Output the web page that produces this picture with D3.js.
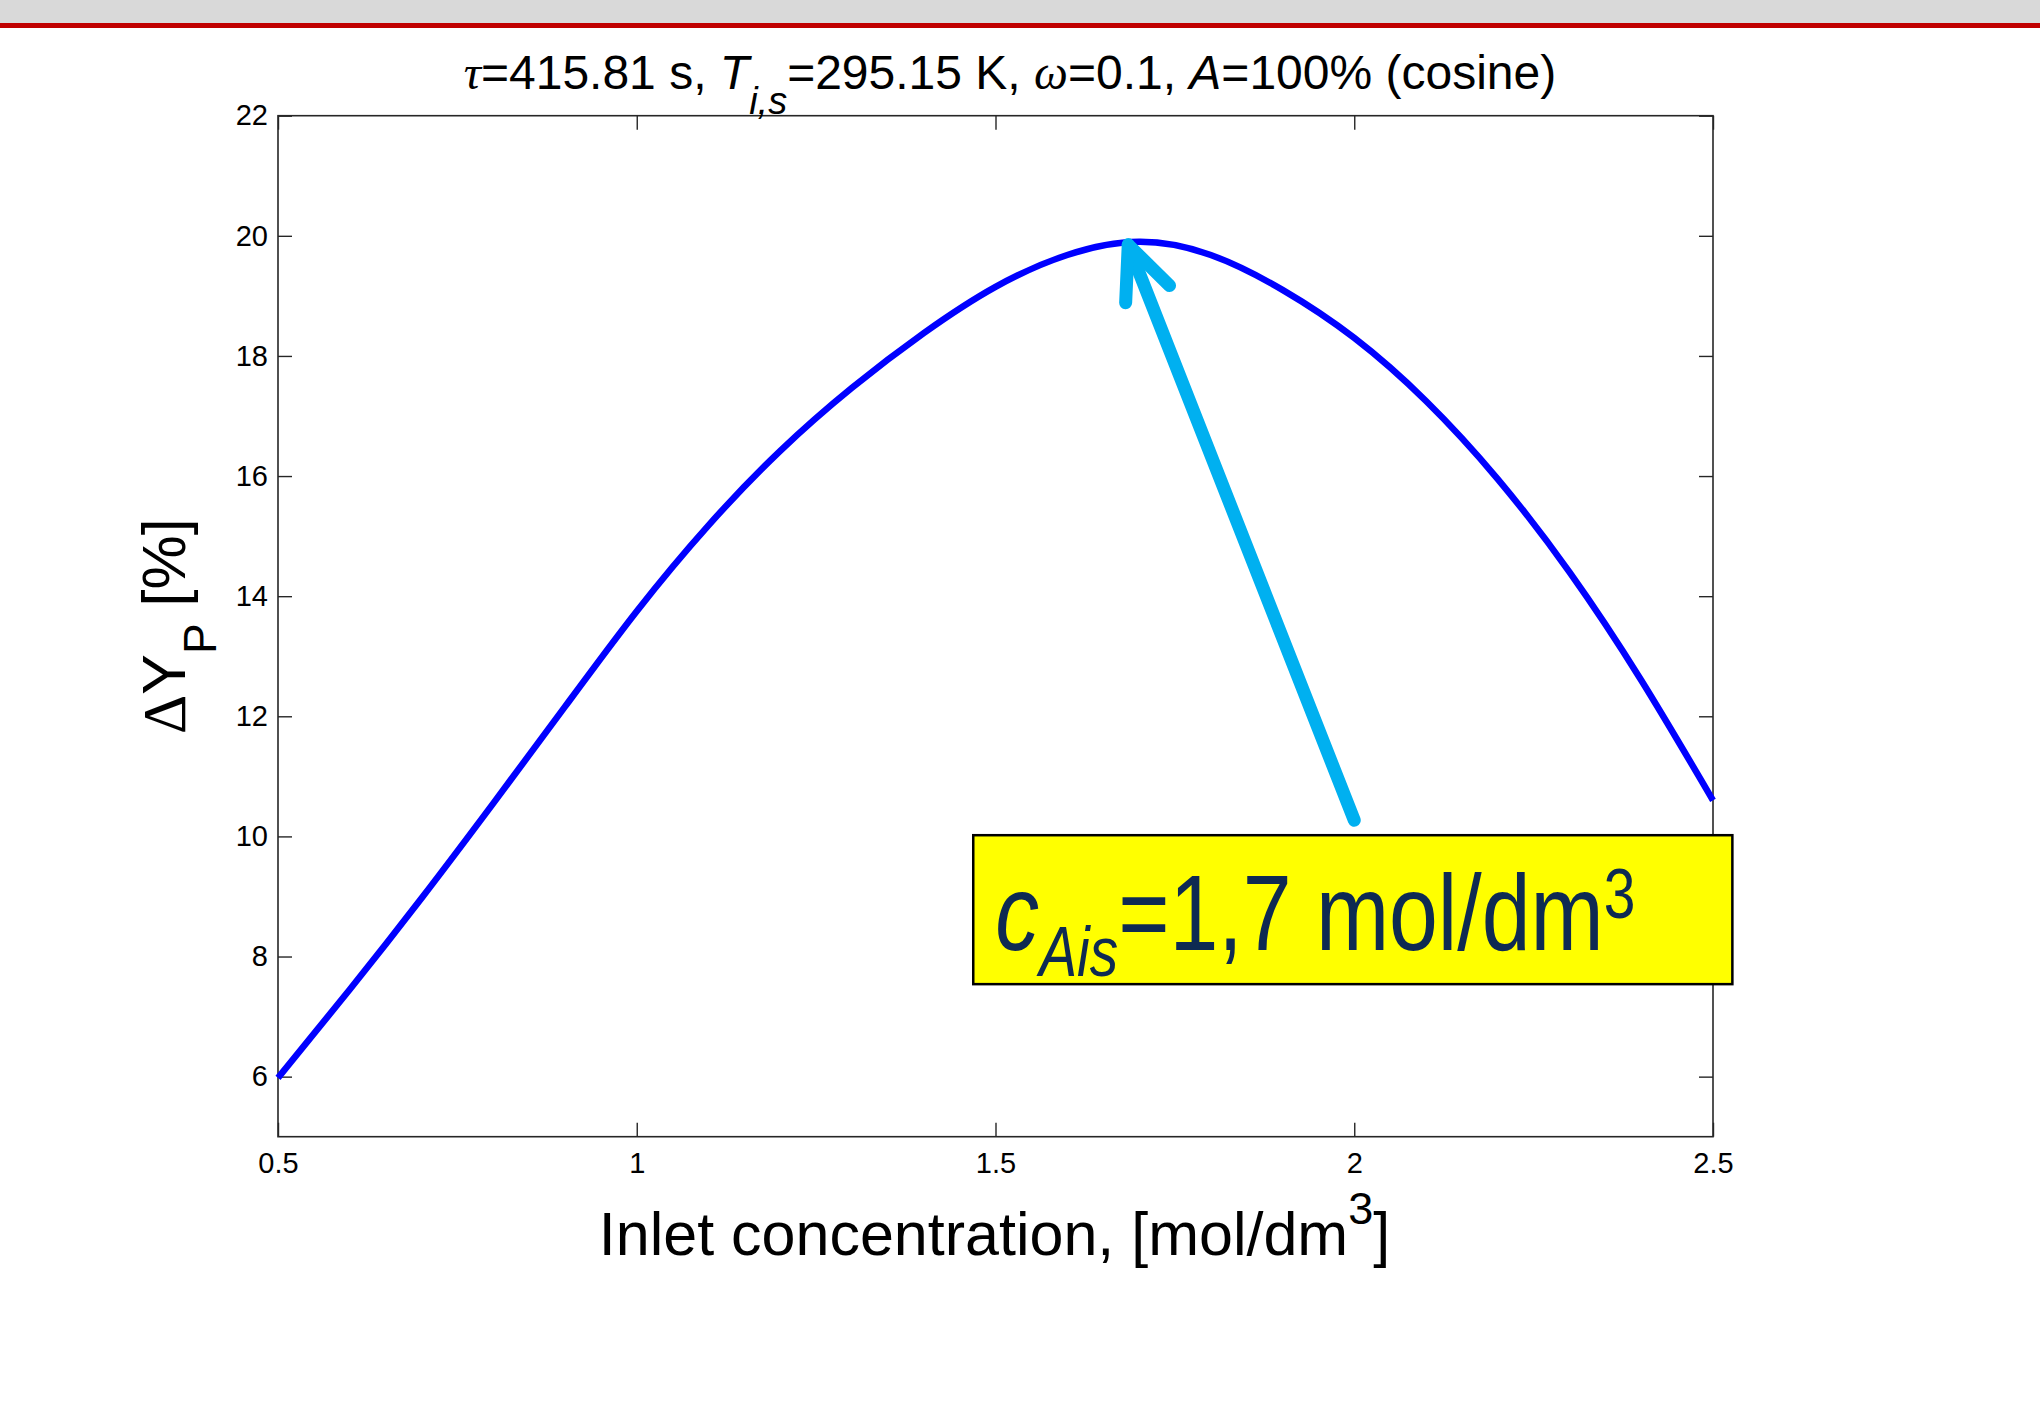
<!DOCTYPE html>
<html>
<head>
<meta charset="utf-8">
<script src="https://cdn.jsdelivr.net/npm/d3@7"></script>
<style>
  body { margin: 0; background: #fff; }
  svg { display: block; }
</style>
</head>
<body>
<script>
// inlet concentration [mol/dm3] and yield change [%]
const concentration = [0.5, 0.6, 0.7, 0.8, 0.9, 1.0, 1.1, 1.2, 1.3, 1.4, 1.5,
                       1.6, 1.7, 1.8, 1.9, 2.0, 2.1, 2.2, 2.3, 2.4, 2.5];
const deltaYield = [5.98, 7.45, 8.97, 10.55, 12.16, 13.75, 15.18, 16.42, 17.47, 18.38, 19.15,
                    19.68, 19.9, 19.68, 19.1, 18.3, 17.25, 15.95, 14.4, 12.6, 10.6];

const xTicks = [0.5, 1, 1.5, 2, 2.5];
const yTicks = [6, 8, 10, 12, 14, 16, 18, 20, 22];

// annotation: arrow from label box to the maximum, box corners (data units)
const arrowFrom = [2.0, 10.27];
const arrowTo = [1.685, 19.85];
const noteBox = [1.469, 10.02, 2.527, 7.54];

const width = 2040, height = 1404;
const margin = { top: 115.7, right: 327, bottom: 267.3, left: 278 };
const font = '"Liberation Sans", Arial, sans-serif';
const serif = '"Liberation Serif", "Times New Roman", serif';

const svg = d3.select('body')
    .append('svg')
    .attr('width', width)
    .attr('height', height)
    .style('font-family', font);

// slide header remnants
svg.append('rect').attr('x', 0).attr('y', 0).attr('width', width).attr('height', 23).attr('fill', '#d9d9d9');
svg.append('rect').attr('x', 0).attr('y', 23).attr('width', width).attr('height', 5).attr('fill', '#c00000');

const x = d3.scaleLinear().domain([0.5, 2.5]).range([margin.left, width - margin.right]);
const y = d3.scaleLinear().domain([5, 22]).range([height - margin.bottom, margin.top]);

const tickLen = 14;

const gx = svg.append('g')
    .attr('transform', `translate(0,${y(5)})`)
    .call(d3.axisBottom(x).tickValues(xTicks).tickSizeInner(-tickLen).tickSizeOuter(0)
        .tickPadding(16).tickFormat(d3.format('')));
const gxTop = svg.append('g')
    .attr('transform', `translate(0,${y(22)})`)
    .call(d3.axisTop(x).tickValues(xTicks).tickSizeInner(-tickLen).tickSizeOuter(0).tickFormat(''));
const gy = svg.append('g')
    .attr('transform', `translate(${x(0.5)},0)`)
    .call(d3.axisLeft(y).tickValues(yTicks).tickSizeInner(-tickLen).tickSizeOuter(0)
        .tickPadding(10).tickFormat(d3.format('')));
const gyRight = svg.append('g')
    .attr('transform', `translate(${x(2.5)},0)`)
    .call(d3.axisRight(y).tickValues(yTicks).tickSizeInner(-tickLen).tickSizeOuter(0).tickFormat(''));

[gx, gxTop, gy, gyRight].forEach(g => {
    g.select('.domain').remove();
    g.selectAll('line').attr('stroke', '#262626').attr('stroke-width', 1.4);
    g.selectAll('text').attr('fill', '#000').style('font-size', '29px').style('font-family', font);
});

// frame
svg.append('rect')
    .attr('x', x(0.5)).attr('y', y(22))
    .attr('width', x(2.5) - x(0.5)).attr('height', y(5) - y(22))
    .attr('fill', 'none').attr('stroke', '#262626').attr('stroke-width', 1.6);

// curve
const line = d3.line()
    .x((d, i) => x(concentration[i]))
    .y(d => y(d))
    .curve(d3.curveNatural);

svg.append('path')
    .datum(deltaYield)
    .attr('d', line)
    .attr('fill', 'none')
    .attr('stroke', '#0000ff')
    .attr('stroke-width', 6.5);

// title
const title = svg.append('text')
    .attr('x', 1010).attr('y', 89)
    .attr('text-anchor', 'middle')
    .style('font-size', '48px')
    .attr('fill', '#000');
title.append('tspan').style('font-style', 'italic').style('font-family', serif).text('τ');
title.append('tspan').text('=415.81 s, ');
title.append('tspan').style('font-style', 'italic').text('T');
title.append('tspan').attr('dy', 25).style('font-style', 'italic').style('font-size', '38px').text('i,s');
title.append('tspan').attr('dy', -25).text('=295.15 K, ');
title.append('tspan').style('font-style', 'italic').style('font-family', serif).text('ω');
title.append('tspan').text('=0.1, ');
title.append('tspan').style('font-style', 'italic').text('A');
title.append('tspan').text('=100% (cosine)');

// x label
const xl = svg.append('text')
    .attr('x', (x(0.5) + x(2.5)) / 2 - 1).attr('y', 1255)
    .attr('text-anchor', 'middle')
    .style('font-size', '61px');
xl.append('tspan').text('Inlet concentration, [mol/dm');
xl.append('tspan').attr('dy', -31).style('font-size', '45px').text('3');
xl.append('tspan').attr('dy', 31).text(']');

// y label
const yl = svg.append('text')
    .attr('transform', `translate(185,${(y(5) + y(22)) / 2}) rotate(-90)`)
    .attr('text-anchor', 'middle')
    .style('font-size', '61px');
yl.append('tspan').style('font-family', serif).text('Δ');
yl.append('tspan').text('Y');
yl.append('tspan').attr('dy', 31).style('font-size', '46px').text('P');
yl.append('tspan').attr('dy', -31).text(' [%]');

// annotation arrow
const p0 = [x(arrowFrom[0]), y(arrowFrom[1])];
const p1 = [x(arrowTo[0]), y(arrowTo[1])];
const ang = Math.atan2(p0[1] - p1[1], p0[0] - p1[0]);
const headLen = 58, headAng = 24 * Math.PI / 180;
const arms = [ang - headAng, ang + headAng].map(a => [p1[0] + headLen * Math.cos(a), p1[1] + headLen * Math.sin(a)]);

const arrow = svg.append('g')
    .attr('stroke', '#00b0f0')
    .attr('stroke-width', 13)
    .attr('stroke-linecap', 'round')
    .attr('stroke-linejoin', 'round')
    .attr('fill', 'none');
arrow.append('line').attr('x1', p0[0]).attr('y1', p0[1]).attr('x2', p1[0]).attr('y2', p1[1]);
arrow.append('path').attr('d', `M${arms[0][0]},${arms[0][1]}L${p1[0]},${p1[1]}L${arms[1][0]},${arms[1][1]}`);

// label box
svg.append('rect')
    .attr('x', x(noteBox[0])).attr('y', y(noteBox[1]))
    .attr('width', x(noteBox[2]) - x(noteBox[0]))
    .attr('height', y(noteBox[3]) - y(noteBox[1]))
    .attr('fill', '#ffff00')
    .attr('stroke', '#000')
    .attr('stroke-width', 2.5);

const note = svg.append('g')
    .attr('transform', `translate(${x(noteBox[0]) + 22},950) scale(0.813,1)`)
    .append('text')
    .attr('fill', '#0e2a52')
    .style('font-size', '108px');
note.append('tspan').style('font-style', 'italic').text('c');
note.append('tspan').attr('dy', 26).style('font-style', 'italic').style('font-size', '70px').text('Ais');
note.append('tspan').attr('dy', -26).text('=1,7 mol/dm');
note.append('tspan').attr('dy', -32).style('font-size', '70px').text('3');
</script>
</body>
</html>
